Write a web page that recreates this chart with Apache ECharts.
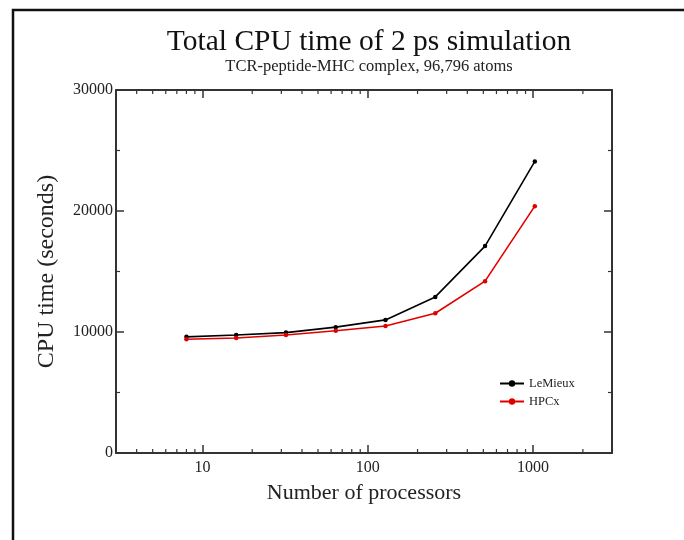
<!DOCTYPE html>
<html><head><meta charset="utf-8">
<script src="https://cdn.jsdelivr.net/npm/echarts@6/dist/echarts.min.js"></script>
<style>html,body{margin:0;padding:0;background:#fff}#c{width:684px;height:540px}</style>
</head><body><div id="c"></div>
<script>
const processors = [8, 16, 32, 64, 128, 256, 512, 1024];
const lemieux = [9600, 9750, 9950, 10400, 11000, 12900, 17100, 24100];
const hpcx = [9400, 9500, 9750, 10100, 10500, 11550, 14200, 20400];
const xMinorTicks = [4,5,6,7,8,9,20,30,40,50,60,70,80,90,200,300,400,500,600,700,800,900,2000,3000];
const titleText = 'Total CPU time of 2 ps simulation';
const subtitleText = 'TCR-peptide-MHC complex, 96,796 atoms';

const FONT = '"Liberation Serif", "DejaVu Serif", serif';
const AX = '#333';
const chart = echarts.init(document.getElementById('c'), null, {renderer: 'canvas'});

function minorRender(params, api) {
  const v = api.value(0);
  const pb = api.coord([v, 0]);
  const pt = api.coord([v, 30000]);
  const st = {stroke: AX, lineWidth: 1.2};
  return {type: 'group', children: [
    {type: 'line', shape: {x1: pb[0], y1: pb[1], x2: pb[0], y2: pb[1] - 4}, style: st},
    {type: 'line', shape: {x1: pt[0], y1: pt[1], x2: pt[0], y2: pt[1] + 4}, style: st}
  ]};
}

const axisBase = {
  axisLine: {show: true, onZero: false, lineStyle: {color: AX, width: 2}},
  axisTick: {show: true, inside: true, length: 8, lineStyle: {color: AX, width: 1.5}},
  splitLine: {show: false}
};

chart.setOption({
  backgroundColor: '#fff',
  animation: false,
  title: [
    {text: titleText, left: 364, top: 22, textAlign: 'center',
     textStyle: {fontFamily: FONT, fontSize: 29.5, fontWeight: 'normal', color: '#111'}},
    {text: subtitleText, left: 364, top: 53, textAlign: 'center',
     textStyle: {fontFamily: FONT, fontSize: 16.5, fontWeight: 'normal', color: '#222'}}
  ],
  graphic: [
    {type: 'polyline', shape: {points: [[13, 545], [13, 10], [690, 10]]},
     style: {stroke: '#111', lineWidth: 2.5, fill: null}}
  ],
  grid: {left: 116, top: 90, right: 72, bottom: 87},
  legend: {
    left: 494, top: 372, orient: 'vertical', itemGap: 5, itemWidth: 24, itemHeight: 8,
    textStyle: {fontFamily: FONT, fontSize: 12.5, color: '#222'},
    data: ['LeMieux', 'HPCx']
  },
  xAxis: [
    Object.assign({}, axisBase, {
      type: 'log', logBase: 10, min: 3, max: 3000, position: 'bottom',
      name: 'Number of processors', nameLocation: 'middle', nameGap: 29,
      nameTextStyle: {fontFamily: FONT, fontSize: 22, color: '#222'},
      axisLabel: {fontFamily: FONT, fontSize: 16, color: '#222', margin: 7,
        formatter: function (v) { return (v === 10 || v === 100 || v === 1000) ? String(v) : ''; }}
    }),
    Object.assign({}, axisBase, {
      type: 'log', logBase: 10, min: 3, max: 3000, position: 'top',
      axisLabel: {show: false}
    })
  ],
  yAxis: [
    Object.assign({}, axisBase, {
      type: 'value', min: 0, max: 30000, interval: 10000, position: 'left',
      minorTick: {show: true, splitNumber: 2, length: 4, lineStyle: {color: AX, width: 1.2}},
      name: 'CPU time (seconds)', nameLocation: 'middle', nameGap: 57,
      nameTextStyle: {fontFamily: FONT, fontSize: 24, color: '#222'},
      axisLabel: {fontFamily: FONT, fontSize: 16, color: '#222', margin: 3,
        formatter: function (v) { return String(v); }}
    }),
    Object.assign({}, axisBase, {
      type: 'value', min: 0, max: 30000, interval: 10000, position: 'right',
      minorTick: {show: true, splitNumber: 2, length: 4, lineStyle: {color: AX, width: 1.2}},
      axisLabel: {show: false}
    })
  ],
  series: [
    {name: 'LeMieux', type: 'line', data: processors.map((p, i) => [p, lemieux[i]]),
     symbol: 'circle', symbolSize: 4.5, color: '#000',
     lineStyle: {width: 1.6, color: '#000'}, itemStyle: {color: '#000'}},
    {name: 'HPCx', type: 'line', data: processors.map((p, i) => [p, hpcx[i]]),
     symbol: 'circle', symbolSize: 4.5, color: '#e00000',
     lineStyle: {width: 1.6, color: '#e00000'}, itemStyle: {color: '#e00000'}},
    {type: 'custom', data: xMinorTicks.map(v => [v, 0]), renderItem: minorRender,
     clip: false, silent: true, z: 5}
  ]
});
</script></body></html>
